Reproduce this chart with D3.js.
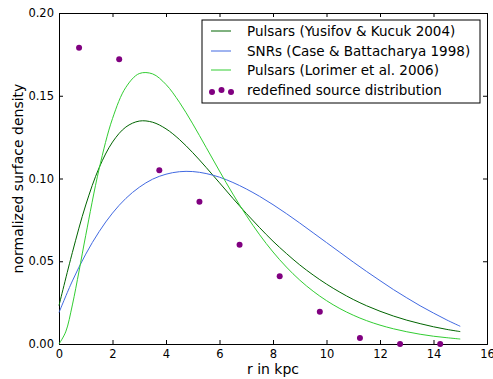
<!DOCTYPE html>
<html>
<head>
<meta charset="utf-8">
<script src="https://d3js.org/d3.v7.min.js"></script>
<style>
  body { margin: 0; background: #fff; }
  text { font-family: "DejaVu Sans", sans-serif; fill: #000; }
</style>
</head>
<body>
<svg id="chart"></svg>
<script>
// radius samples (kpc)
var rGrid = [0, 0.5, 1, 1.5, 2, 2.5, 3, 3.5, 4, 4.5, 5, 5.5, 6, 6.5, 7, 7.5,
             8, 8.5, 9, 9.5, 10, 10.5, 11, 11.5, 12, 12.5, 13, 13.5, 14, 14.5, 15];

var yusifov = [0.0232, 0.0553, 0.0840, 0.1065, 0.1220, 0.1311, 0.1347, 0.1340,
               0.1300, 0.1236, 0.1156, 0.1067, 0.0974, 0.0880, 0.0789, 0.0703,
               0.0621, 0.0547, 0.0478, 0.0417, 0.0362, 0.0313, 0.0269, 0.0231,
               0.0198, 0.0169, 0.0144, 0.0123, 0.0104, 0.0088, 0.0075];

var snr = [0.0190, 0.0381, 0.0543, 0.0679, 0.0791, 0.0880, 0.0947, 0.0996,
           0.1026, 0.1041, 0.1042, 0.1030, 0.1008, 0.0976, 0.0937, 0.0892,
           0.0842, 0.0788, 0.0731, 0.0672, 0.0613, 0.0554, 0.0495, 0.0438,
           0.0383, 0.0329, 0.0279, 0.0231, 0.0187, 0.0145, 0.0107];

// Lorimer curve needs a finer start near r = 0
var rLorimer = [0, 0.25, 0.5, 0.75, 1, 1.5, 2, 2.5, 3, 3.5, 4, 4.5, 5, 5.5, 6, 6.5, 7, 7.5,
                8, 8.5, 9, 9.5, 10, 10.5, 11, 11.5, 12, 12.5, 13, 13.5, 14, 14.5, 15];
var lorimer = [0, 0.0073, 0.0236, 0.0441, 0.0657, 0.1058, 0.1362, 0.1551, 0.1634,
               0.1632, 0.1568, 0.1461, 0.1330, 0.1188, 0.1045, 0.0906, 0.0777,
               0.0660, 0.0556, 0.0465, 0.0386, 0.0319, 0.0262, 0.0214, 0.0174,
               0.0141, 0.0114, 0.0092, 0.0074, 0.0059, 0.0047, 0.0038, 0.0030];

var binR = [0.75, 2.25, 3.75, 5.25, 6.75, 8.25, 9.75, 11.25, 12.75, 14.25];
var binDensity = [0.179, 0.172, 0.105, 0.086, 0.060, 0.041, 0.0195, 0.0036, 0.0, 0.0];

var xTicks = [0, 2, 4, 6, 8, 10, 12, 14, 16];
var yTicks = [0, 0.05, 0.10, 0.15, 0.20];

var legendLabels = ["Pulsars (Yusifov & Kucuk 2004)", "SNRs (Case & Battacharya 1998)",
                    "Pulsars (Lorimer et al. 2006)", "redefined source distribution"];

var width = 493, height = 379;
var margin = {left: 59, top: 13, right: 6, bottom: 35};

var svg = d3.select("#chart").attr("width", width).attr("height", height);

var x = d3.scaleLinear().domain([0, 16]).range([margin.left, width - margin.right]);
var y = d3.scaleLinear().domain([0, 0.2]).range([height - margin.bottom, margin.top]);

// axes with inward ticks
var fmtY = d3.format(".2f");
svg.append("g").attr("transform", "translate(0," + y(0) + ")")
  .call(d3.axisBottom(x).tickValues(xTicks).tickSize(-4).tickPadding(6).tickFormat(d3.format("d")));
svg.append("g").attr("transform", "translate(0," + y(0.2) + ")")
  .call(d3.axisTop(x).tickValues(xTicks).tickSize(-4).tickFormat(""));
svg.append("g").attr("transform", "translate(" + x(0) + ",0)")
  .call(d3.axisLeft(y).tickValues(yTicks).tickSize(-4).tickPadding(5).tickFormat(fmtY));
svg.append("g").attr("transform", "translate(" + x(16) + ",0)")
  .call(d3.axisRight(y).tickValues(yTicks).tickSize(-4).tickFormat(""));

svg.selectAll(".domain").attr("stroke", "#000").attr("stroke-width", 1);
svg.selectAll(".tick line").attr("stroke", "#000");
svg.selectAll(".tick text").style("font-size", "11.5px").attr("fill", "#000");

// curves
var line = d3.line().curve(d3.curveCatmullRom);
var series = [
  {r: rGrid, v: yusifov, color: "#006400"},
  {r: rGrid, v: snr, color: "#4169e1"},
  {r: rLorimer, v: lorimer, color: "#32cd32"}
];
series.forEach(function (s) {
  svg.append("path")
    .attr("d", line(s.r.map(function (r, i) { return [x(r), y(s.v[i])]; })))
    .attr("fill", "none")
    .attr("stroke", s.color)
    .attr("stroke-width", 1);
});

svg.append("g").selectAll("circle")
  .data(binR)
  .enter().append("circle")
  .attr("cx", function (d) { return x(d); })
  .attr("cy", function (d, i) { return y(binDensity[i]); })
  .attr("r", 3)
  .attr("fill", "#800080");

// axis labels
svg.append("text")
  .attr("x", (x(0) + x(16)) / 2).attr("y", 374)
  .attr("text-anchor", "middle").style("font-size", "14px")
  .text("r in kpc");
svg.append("text")
  .attr("transform", "translate(23," + (y(0.1)) + ") rotate(-90)")
  .attr("text-anchor", "middle").style("font-size", "14px")
  .text("normalized surface density");

// legend
var lg = svg.append("g").attr("transform", "translate(202,20)");
lg.append("rect").attr("width", 278).attr("height", 83)
  .attr("fill", "#fff").attr("stroke", "#000").attr("stroke-width", 1);
var rowY = [11, 31, 50, 70];
series.forEach(function (s, i) {
  lg.append("line").attr("x1", 9).attr("x2", 29).attr("y1", rowY[i]).attr("y2", rowY[i])
    .attr("stroke", s.color).attr("stroke-width", 1);
});
[[10, 72], [19.5, 70], [29, 72]].forEach(function (p) {
  lg.append("circle").attr("cx", p[0]).attr("cy", p[1]).attr("r", 3).attr("fill", "#800080");
});
legendLabels.forEach(function (t, i) {
  lg.append("text").attr("x", 45).attr("y", rowY[i]).attr("dy", "0.35em")
    .style("font-size", "13.5px").text(t);
});
</script>
</body>
</html>
